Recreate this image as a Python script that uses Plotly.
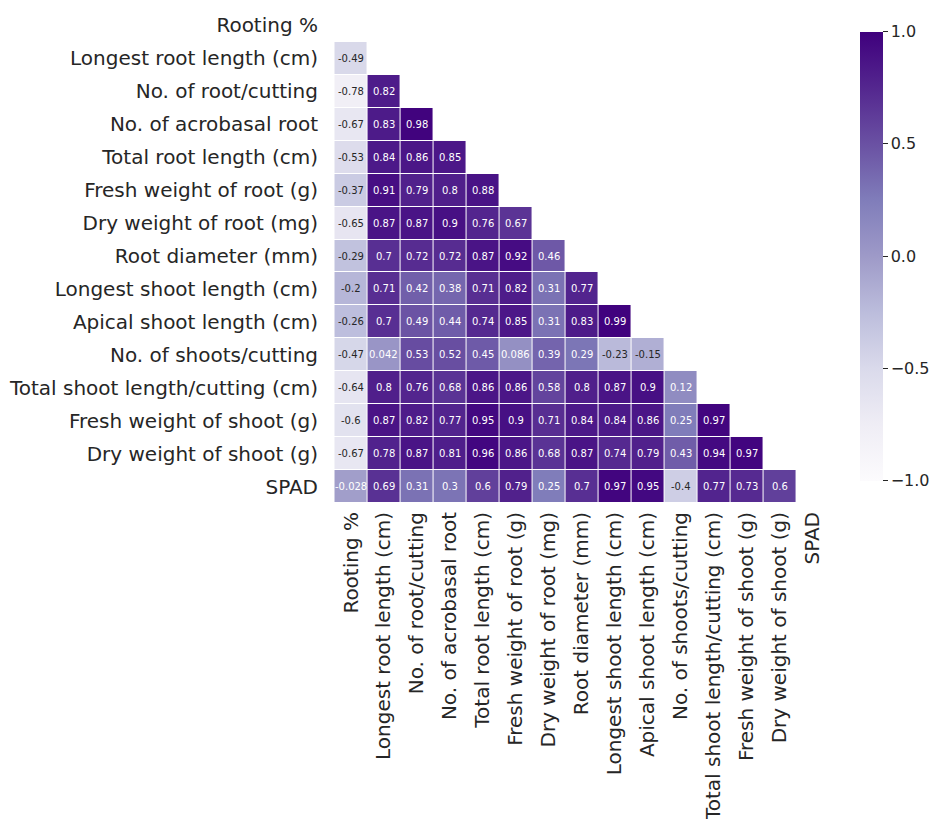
import plotly.graph_objects as go
import numpy as np

labels = [
    "Rooting %",
    "Longest root length (cm)",
    "No. of root/cutting",
    "No. of acrobasal root",
    "Total root length (cm)",
    "Fresh weight of root (g)",
    "Dry weight of root (mg)",
    "Root diameter (mm)",
    "Longest shoot length (cm)",
    "Apical shoot length (cm)",
    "No. of shoots/cutting",
    "Total shoot length/cutting (cm)",
    "Fresh weight of shoot (g)",
    "Dry weight of shoot (g)",
    "SPAD",
]

# lower-triangle correlation rows (row i has i values)
rows = [
    [],
    [-0.49],
    [-0.78, 0.82],
    [-0.67, 0.83, 0.98],
    [-0.53, 0.84, 0.86, 0.85],
    [-0.37, 0.91, 0.79, 0.8, 0.88],
    [-0.65, 0.87, 0.87, 0.9, 0.76, 0.67],
    [-0.29, 0.7, 0.72, 0.72, 0.87, 0.92, 0.46],
    [-0.2, 0.71, 0.42, 0.38, 0.71, 0.82, 0.31, 0.77],
    [-0.26, 0.7, 0.49, 0.44, 0.74, 0.85, 0.31, 0.83, 0.99],
    [-0.47, 0.042, 0.53, 0.52, 0.45, 0.086, 0.39, 0.29, -0.23, -0.15],
    [-0.64, 0.8, 0.76, 0.68, 0.86, 0.86, 0.58, 0.8, 0.87, 0.9, 0.12],
    [-0.6, 0.87, 0.82, 0.77, 0.95, 0.9, 0.71, 0.84, 0.84, 0.86, 0.25, 0.97],
    [-0.67, 0.78, 0.87, 0.81, 0.96, 0.86, 0.68, 0.87, 0.74, 0.79, 0.43, 0.94, 0.97],
    [-0.028, 0.69, 0.31, 0.3, 0.6, 0.79, 0.25, 0.7, 0.97, 0.95, -0.4, 0.77, 0.73, 0.6],
]

cbar_ticks = [-1, -0.5, 0, 0.5, 1]
cbar_ticktext = ["\u22121.0", "\u22120.5", "0.0", "0.5", "1.0"]

purples = ["#fcfbfd", "#efedf5", "#dadaeb", "#bcbddc", "#9e9ac8",
           "#807dba", "#6a51a3", "#54278f", "#3f007d"]
colorscale = [[i / (len(purples) - 1), c] for i, c in enumerate(purples)]

n = len(labels)
z = [[None] * n for _ in range(n)]
text = [[""] * n for _ in range(n)]
for i, r in enumerate(rows):
    for j, v in enumerate(r):
        z[i][j] = v
        text[i][j] = f"{v:.2g}"


def hex2rgb(h):
    h = h.lstrip("#")
    return [int(h[k:k + 2], 16) / 255 for k in (0, 2, 4)]


def color_at(v):
    t = (v + 1) / 2 * (len(purples) - 1)
    k = min(int(np.floor(t)), len(purples) - 2)
    f = t - k
    a, b = hex2rgb(purples[k]), hex2rgb(purples[k + 1])
    return [a[m] + (b[m] - a[m]) * f for m in range(3)]


def lum(rgb):
    lin = [c / 12.92 if c <= 0.03928 else ((c + 0.055) / 1.055) ** 2.4 for c in rgb]
    return 0.2126 * lin[0] + 0.7152 * lin[1] + 0.0722 * lin[2]


fig = go.Figure()
fig.add_trace(go.Heatmap(
    z=z, x=labels, y=labels,
    colorscale=colorscale, zmin=-1, zmax=1,
    xgap=1, ygap=1, hoverongaps=False,
    colorbar=dict(
        x=1.0625, xanchor="left", xpad=0,
        y=0.5, yanchor="middle", ypad=0,
        lenmode="pixels", len=449,
        thicknessmode="pixels", thickness=23,
        outlinewidth=0,
        tickvals=cbar_ticks,
        ticktext=cbar_ticktext,
        ticks="outside", ticklen=5, tickwidth=1, tickcolor="#262626",
        tickfont=dict(family="DejaVu Sans", size=16, color="#262626"),
    ),
))

annotations = []
for i, r in enumerate(rows):
    for j, v in enumerate(r):
        col = "#262626" if lum(color_at(v)) > 0.408 else "white"
        annotations.append(dict(
            x=labels[j], y=labels[i], text=text[i][j], showarrow=False,
            font=dict(family="DejaVu Sans", size=10, color=col),
        ))

fig.update_layout(
    width=935, height=819, autosize=False,
    margin=dict(l=333, r=106, t=9, b=316, autoexpand=False),
    paper_bgcolor="white", plot_bgcolor="white",
    annotations=annotations,
    xaxis=dict(
        tickangle=-90, showgrid=False, zeroline=False, ticks="",
        ticklabelstandoff=4, automargin=False,
        tickfont=dict(family="DejaVu Sans", size=20, color="#262626"),
        categoryorder="array", categoryarray=labels,
    ),
    yaxis=dict(
        autorange="reversed", showgrid=False, zeroline=False, ticks="",
        ticklabelstandoff=14, automargin=False,
        tickfont=dict(family="DejaVu Sans", size=20, color="#262626"),
        categoryorder="array", categoryarray=labels,
    ),
)

fig.write_html(
    "out.html",
    config={"responsive": False, "displayModeBar": False},
    post_script="document.body.style.margin='0px';document.body.style.overflow='hidden';",
)
